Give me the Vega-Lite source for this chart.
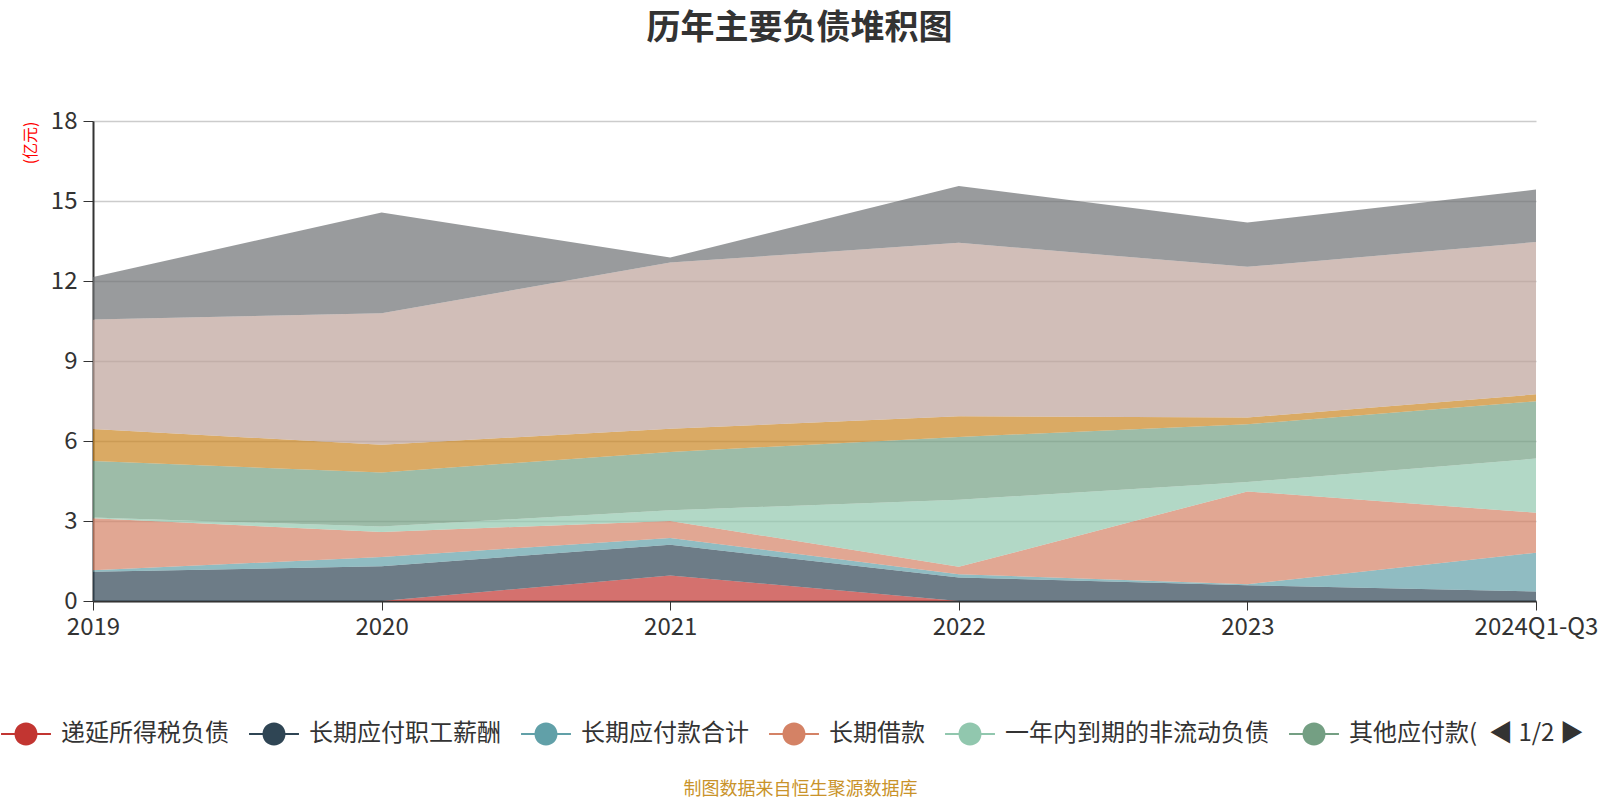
{
  "$schema": "https://vega.github.io/schema/vega-lite/v6.json",
  "width": 1443,
  "height": 480,
  "autosize": {"type": "none"},
  "padding": {"left": 93, "top": 121, "right": 64, "bottom": 199},
  "background": "white",
  "title": {
    "text": "历年主要负债堆积图",
    "fontSize": 34,
    "fontWeight": "bold",
    "color": "#333333",
    "anchor": "middle",
    "dx": -15,
    "offset": 63
  },
  "data": {
    "values": [
      {"year": "2019", "item": "递延所得税负债", "value": 0},
      {"year": "2019", "item": "长期应付职工薪酬", "value": 1.1},
      {"year": "2019", "item": "长期应付款合计", "value": 0.05},
      {"year": "2019", "item": "长期借款", "value": 1.95},
      {"year": "2019", "item": "一年内到期的非流动负债", "value": 0.03},
      {"year": "2019", "item": "其他应付款(合计)", "value": 2.12},
      {"year": "2019", "item": "应交税费", "value": 1.2},
      {"year": "2019", "item": "应付票据及应付账款", "value": 4.11},
      {"year": "2019", "item": "合同负债", "value": 1.59},
      {"year": "2020", "item": "递延所得税负债", "value": 0},
      {"year": "2020", "item": "长期应付职工薪酬", "value": 1.3},
      {"year": "2020", "item": "长期应付款合计", "value": 0.35},
      {"year": "2020", "item": "长期借款", "value": 0.94},
      {"year": "2020", "item": "一年内到期的非流动负债", "value": 0.2},
      {"year": "2020", "item": "其他应付款(合计)", "value": 2.03},
      {"year": "2020", "item": "应交税费", "value": 1.04},
      {"year": "2020", "item": "应付票据及应付账款", "value": 4.93},
      {"year": "2020", "item": "合同负债", "value": 3.78},
      {"year": "2021", "item": "递延所得税负债", "value": 0.96},
      {"year": "2021", "item": "长期应付职工薪酬", "value": 1.15},
      {"year": "2021", "item": "长期应付款合计", "value": 0.25},
      {"year": "2021", "item": "长期借款", "value": 0.64},
      {"year": "2021", "item": "一年内到期的非流动负债", "value": 0.4},
      {"year": "2021", "item": "其他应付款(合计)", "value": 2.19},
      {"year": "2021", "item": "应交税费", "value": 0.87},
      {"year": "2021", "item": "应付票据及应付账款", "value": 6.23},
      {"year": "2021", "item": "合同负债", "value": 0.19},
      {"year": "2022", "item": "递延所得税负债", "value": 0},
      {"year": "2022", "item": "长期应付职工薪酬", "value": 0.88},
      {"year": "2022", "item": "长期应付款合计", "value": 0.12},
      {"year": "2022", "item": "长期借款", "value": 0.28},
      {"year": "2022", "item": "一年内到期的非流动负债", "value": 2.52},
      {"year": "2022", "item": "其他应付款(合计)", "value": 2.35},
      {"year": "2022", "item": "应交税费", "value": 0.78},
      {"year": "2022", "item": "应付票据及应付账款", "value": 6.5},
      {"year": "2022", "item": "合同负债", "value": 2.13},
      {"year": "2023", "item": "递延所得税负债", "value": 0},
      {"year": "2023", "item": "长期应付职工薪酬", "value": 0.59},
      {"year": "2023", "item": "长期应付款合计", "value": 0.04},
      {"year": "2023", "item": "长期借款", "value": 3.48},
      {"year": "2023", "item": "一年内到期的非流动负债", "value": 0.35},
      {"year": "2023", "item": "其他应付款(合计)", "value": 2.17},
      {"year": "2023", "item": "应交税费", "value": 0.25},
      {"year": "2023", "item": "应付票据及应付账款", "value": 5.65},
      {"year": "2023", "item": "合同负债", "value": 1.66},
      {"year": "2024Q1-Q3", "item": "递延所得税负债", "value": 0},
      {"year": "2024Q1-Q3", "item": "长期应付职工薪酬", "value": 0.36},
      {"year": "2024Q1-Q3", "item": "长期应付款合计", "value": 1.45},
      {"year": "2024Q1-Q3", "item": "长期借款", "value": 1.5},
      {"year": "2024Q1-Q3", "item": "一年内到期的非流动负债", "value": 2.03},
      {"year": "2024Q1-Q3", "item": "其他应付款(合计)", "value": 2.15},
      {"year": "2024Q1-Q3", "item": "应交税费", "value": 0.26},
      {"year": "2024Q1-Q3", "item": "应付票据及应付账款", "value": 5.71},
      {"year": "2024Q1-Q3", "item": "合同负债", "value": 1.97}
    ]
  },
  "transform": [
    {
      "calculate": "indexof(['递延所得税负债','长期应付职工薪酬','长期应付款合计','长期借款','一年内到期的非流动负债','其他应付款(合计)','应交税费','应付票据及应付账款','合同负债'], datum.item)",
      "as": "rank"
    }
  ],
  "mark": {"type": "area", "fillOpacity": 0.7, "interpolate": "linear"},
  "encoding": {
    "x": {
      "field": "year",
      "type": "ordinal",
      "sort": null,
      "scale": {"type": "point", "padding": 0},
      "axis": {
        "labelAngle": 0,
        "labelFontSize": 24,
        "labelColor": "#333333",
        "labelPadding": 5,
        "tickSize": 9,
        "tickColor": "#333333",
        "domainColor": "#333333",
        "domainWidth": 2,
        "grid": false,
        "title": "制图数据来自恒生聚源数据库",
        "titleColor": "#c9932a",
        "titleFontSize": 18,
        "titleFontWeight": "normal",
        "titleX": 707,
        "titleY": 188,
        "titleAlign": "center",
        "titleBaseline": "middle"
      }
    },
    "y": {
      "field": "value",
      "type": "quantitative",
      "stack": "zero",
      "scale": {"domain": [0, 18], "nice": false},
      "axis": {
        "values": [0, 3, 6, 9, 12, 15, 18],
        "title": "(亿元)",
        "titleColor": "#ff0000",
        "titleFontSize": 16,
        "titleFontWeight": "normal",
        "titleAngle": -90,
        "titleX": -63,
        "titleY": 0,
        "titleAlign": "right",
        "titleBaseline": "middle",
        "labelFontSize": 24,
        "labelColor": "#333333",
        "labelPadding": 6,
        "tickSize": 10,
        "tickColor": "#333333",
        "domainColor": "#333333",
        "domainWidth": 2,
        "grid": true,
        "gridColor": "#cccccc",
        "gridWidth": 1.5
      }
    },
    "color": {
      "field": "item",
      "type": "nominal",
      "scale": {
        "domain": ["递延所得税负债", "长期应付职工薪酬", "长期应付款合计", "长期借款", "一年内到期的非流动负债", "其他应付款(合计)", "应交税费", "应付票据及应付账款", "合同负债"],
        "range": ["#c23531", "#2f4554", "#61a0a8", "#d48265", "#91c7ae", "#749f83", "#ca8622", "#bda29a", "#6e7074"]
      },
      "legend": {
        "orient": "none",
        "legendX": -79,
        "legendY": 601,
        "direction": "horizontal",
        "padding": 0,
        "values": ["递延所得税负债", "长期应付职工薪酬", "长期应付款合计", "长期借款", "一年内到期的非流动负债", "其他应付款(合计)"],
        "labelExpr": "datum.label == '其他应付款(合计)' ? '其他应付款(' : datum.label",
        "symbolType": "M-2.17,-0.09H2.17V0.09H-2.17Z M1,0 A1,1 0 1,1 -1,0 A1,1 0 1,1 1,0 Z",
        "symbolSize": 529,
        "symbolOpacity": 1,
        "symbolStrokeWidth": 0,
        "labelFontSize": 24,
        "labelColor": "#333333",
        "labelOffset": 23,
        "labelLimit": 400,
        "columnPadding": 20,
        "title": "◀ 1/2 ▶",
        "titleOrient": "right",
        "titleFontSize": 24,
        "titleFontWeight": "normal",
        "titleColor": "#333333",
        "titlePadding": 12
      }
    },
    "order": {"field": "rank", "type": "quantitative", "sort": "ascending"}
  },
  "config": {
    "font": "Noto Sans CJK SC",
    "view": {"stroke": null}
  }
}
